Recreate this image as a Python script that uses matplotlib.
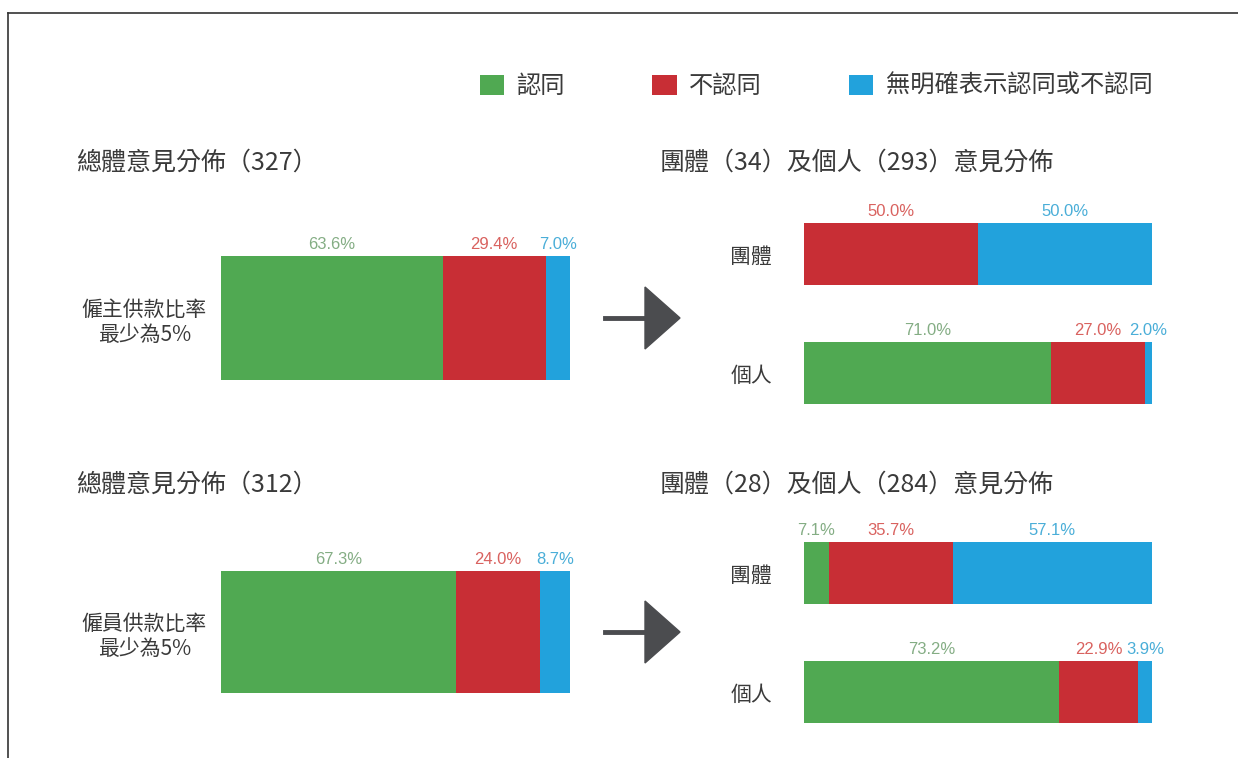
import matplotlib
matplotlib.use("Agg")
import matplotlib.pyplot as plt
from matplotlib.patches import Polygon
from matplotlib.lines import Line2D

plt.rcParams['font.family'] = ['Noto Sans CJK TC', 'DejaVu Sans']

W, H = 1238, 758

# data
opinions = ['認同', '不認同', '無明確表示認同或不認同']
colors = ['#50a952', '#c82e35', '#22a2dc']
label_colors = ['#84ad84', '#d9625f', '#4aaed8']

policies = ['僱主供款比率\n最少為5%', '僱員供款比率\n最少為5%']
overall_n = [327, 312]
overall = [[63.6, 29.4, 7.0],
           [67.3, 24.0, 8.7]]

sub_cats = ['團體', '個人']
group_n = [34, 28]
indiv_n = [293, 284]
group = [[0.0, 50.0, 50.0],
         [7.1, 35.7, 57.1]]
indiv = [[71.0, 27.0, 2.0],
         [73.2, 22.9, 3.9]]


def fx(x):
    return x / W


def fy(y):
    return 1 - y / H


def stacked(ax, rows, height):
    handles = []
    for r, vals in enumerate(rows):
        left = 0
        for k, v in enumerate(vals):
            if v > 0:
                b = ax.barh(r, v, left=left, height=height, color=colors[k], linewidth=0)
                ax.annotate(f'{v:.1f}%', (left + v / 2, r - height / 2), xytext=(0, 3),
                            textcoords='offset points', ha='center', va='bottom',
                            fontsize=12, color=label_colors[k], family='Liberation Sans',
                            annotation_clip=False)
                if r == 0 and len(handles) == k:
                    handles.append(b)
            left += v
    ax.set_xlim(0, 100)
    for s in ax.spines.values():
        s.set_visible(False)
    ax.set_xticks([])
    return handles


fig = plt.figure(figsize=(W / 100, H / 100), dpi=100)

# frame
fig.add_artist(Line2D([fx(8), 1], [fy(13), fy(13)], color='#333333', lw=1.2))
fig.add_artist(Line2D([fx(8), fx(8)], [fy(13), 0], color='#333333', lw=1.2))

row_top = [256, 571]
row_bot = [380, 693]
sub_top = [223, 542]
title_y = [163, 485]
handles = None

for i in range(2):
    # overall bar
    ax = fig.add_axes([fx(221), fy(row_bot[i]), fx(570) - fx(221), (row_bot[i] - row_top[i]) / H])
    h = stacked(ax, [overall[i]], 1.0)
    if handles is None:
        handles = h
    ax.set_ylim(0.5, -0.5)
    ax.set_yticks([0], [policies[i]])
    ax.tick_params(axis='y', length=0, pad=10, labelsize=15, labelcolor='#3a3a3a')
    for t in ax.get_yticklabels():
        t.set_multialignment('center')

    # group / individual bars
    ax2 = fig.add_axes([fx(804), fy(sub_top[i] + 181), fx(1152) - fx(804), 181 / H])
    stacked(ax2, [group[i], indiv[i]], 62 / 119)
    ax2.set_ylim(1 + 0.26, -0.26)
    ax2.set_yticks([0, 1], sub_cats)
    ax2.tick_params(axis='y', length=0, pad=23, labelsize=15, labelcolor='#3a3a3a')

    fig.text(fx(76), fy(title_y[i]), f'總體意見分佈（{overall_n[i]}）', fontsize=18,
             color='#3a3a3a', va='center', ha='left')
    fig.text(fx(660), fy(title_y[i]),
             f'團體（{group_n[i]}）及個人（{indiv_n[i]}）意見分佈', fontsize=18,
             color='#3a3a3a', va='center', ha='left')

    # arrow
    yc = 318 if i == 0 else 632
    fig.add_artist(Line2D([fx(605), fx(648)], [fy(yc), fy(yc)], color='#4b4c4f', lw=3.5))
    fig.add_artist(Polygon([(fx(645), fy(yc - 31)), (fx(680), fy(yc)), (fx(645), fy(yc + 31))],
                           closed=True, color='#4b4c4f', transform=fig.transFigure))

fig.legend(handles, opinions, loc='center left', bbox_to_anchor=(fx(480), fy(86)),
           ncol=3, frameon=False, fontsize=17.5, handlelength=1.0, handleheight=0.9,
           handletextpad=0.5, columnspacing=3.6, borderaxespad=0, borderpad=0,
           labelcolor='#3a3a3a')

fig.savefig('out.png', dpi=100)
